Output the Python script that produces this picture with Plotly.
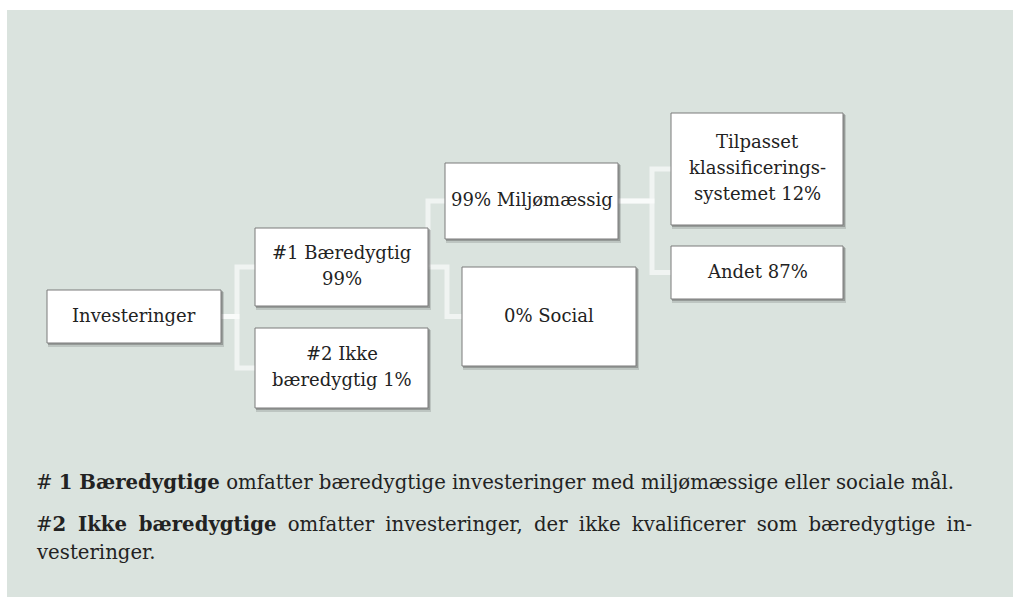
import plotly.graph_objects as go

# ---- data ----
node_names = ["Investeringer", "#1 Bæredygtig", "#2 Ikke bæredygtig", "Miljømæssig",
              "Social", "Tilpasset klassificeringssystemet", "Andet"]
node_values = [None, 99, 1, 99, 0, 12, 87]
node_labels = [
    "Investeringer",
    "#1 Bæredygtig<br>99%",
    "#2 Ikke<br>bæredygtig 1%",
    "99% Miljømæssig",
    "0% Social",
    "Tilpasset<br>klassificerings-<br>systemet 12%",
    "Andet 87%",
]
parents = [None, 0, 0, 1, 1, 3, 3]
footnotes = [
    "# <b>1 Bæredygtige</b> omfatter bæredygtige investeringer med miljømæssige eller sociale mål.",
    "#<b>2 Ikke bæredygtige</b> omfatter investeringer, der ikke kvalificerer som bæredygtige in-",
    "vesteringer.",
]
footnote_justified = [False, True, False]

# ---- layout (pixel space: x0, y0, x1, y1) ----
boxes = [
    (47, 290, 221, 343),
    (255, 228, 428, 306),
    (255, 328, 428, 408),
    (445, 163, 618, 239),
    (462, 267, 636, 366),
    (671, 113, 843, 225),
    (671, 246, 843, 299),
]
trunk_x = {0: 237, 1: 428, 3: 652}
social_elbow_x = 447

W, H = 1013, 597
BG = "#dae3de"
LINE = "rgba(255,255,255,0.6)"
FONT = "DejaVu Serif"
BOX_FS = 18
FOOT_FS = 19.7
BOX_LINE_GAP = 26

fig = go.Figure()
shapes = []
shapes.append(dict(type="rect", x0=7, y0=10, x1=W + 5, y1=H + 5, fillcolor=BG, line=dict(width=0), layer="below"))


def cy(b):
    return (b[1] + b[3]) / 2


# connectors
lw = 5
for i, p in enumerate(parents):
    if p is None:
        continue
    pb, cb = boxes[p], boxes[i]
    tx = trunk_x[p]
    if p == 1 and node_names[i] == "Social":
        path = f"M {pb[2]},{cy(pb)} L {social_elbow_x},{cy(pb)} L {social_elbow_x},{cy(cb)} L {cb[0]},{cy(cb)}"
    else:
        path = f"M {pb[2]},{cy(pb)} L {tx},{cy(pb)} L {tx},{cy(cb)} L {cb[0]},{cy(cb)}"
    shapes.append(dict(type="path", path=path, line=dict(color=LINE, width=lw), layer="below"))

# shadows and boxes
for b in boxes:
    shapes.append(dict(type="rect", x0=b[0] + 1, y0=b[1] + 2, x1=b[2] + 3, y1=b[3] + 4,
                       fillcolor="rgba(60,60,60,0.18)", line=dict(width=0), layer="below"))
    shapes.append(dict(type="rect", x0=b[0] + 1, y0=b[1] + 1, x1=b[2] + 2, y1=b[3] + 2,
                       fillcolor="rgba(60,60,60,0.3)", line=dict(width=0), layer="below"))
    shapes.append(dict(type="rect", x0=b[0], y0=b[1], x1=b[2], y1=b[3],
                       fillcolor="white", line=dict(color="#7a7a7a", width=1), layer="below"))

annotations = []
for b, lab in zip(boxes, node_labels):
    lines = lab.split("<br>")
    n = len(lines)
    for k, ln in enumerate(lines):
        y = cy(b) - 1.5 + (k - (n - 1) / 2) * BOX_LINE_GAP
        annotations.append(dict(x=(b[0] + b[2]) / 2, y=y, text=ln, showarrow=False,
                                xanchor="center", yanchor="middle", align="center",
                                font=dict(family=FONT, size=BOX_FS, color="#222")))

foot_y = [482, 524, 552]
for t, just, y in zip(footnotes, footnote_justified, foot_y):
    if just:
        t = t.replace(" ", " \u2005")
    annotations.append(dict(x=34, y=y, text=t, showarrow=False, xanchor="left", yanchor="middle",
                            align="left", font=dict(family=FONT, size=FOOT_FS, color="#222")))

fig.add_trace(go.Scatter(x=[0, W], y=[0, H], mode="markers", marker=dict(opacity=0),
                         hoverinfo="skip", showlegend=False))

fig.update_layout(
    width=W, height=H, margin=dict(l=0, r=0, t=0, b=0),
    paper_bgcolor="white", plot_bgcolor="white",
    xaxis=dict(range=[0, W], visible=False, fixedrange=True),
    yaxis=dict(range=[H, 0], visible=False, fixedrange=True),
    shapes=shapes, annotations=annotations, showlegend=False,
)
fig.write_html("out.html", config={"displayModeBar": False},
               post_script="document.body.style.margin='0';document.body.style.overflow='hidden';")
